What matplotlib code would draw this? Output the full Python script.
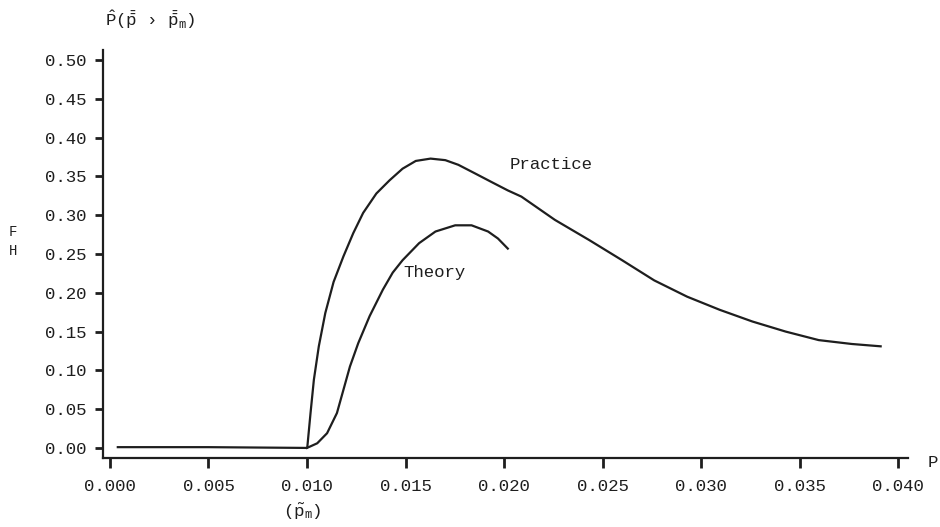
import matplotlib
matplotlib.use("Agg")
import matplotlib.pyplot as plt

plt.rcParams['font.family'] = ['Liberation Mono', 'DejaVu Sans Mono']
plt.rcParams['mathtext.fontset'] = 'custom'
plt.rcParams['mathtext.rm'] = 'Liberation Mono'
plt.rcParams['mathtext.it'] = 'Liberation Mono'

# values
practice_x = [0.0004, 0.0050, 0.0100, 0.01002, 0.01018, 0.01035, 0.0106, 0.01093,
              0.01135, 0.01185, 0.01235, 0.01285, 0.01352, 0.01419, 0.01485, 0.01552,
              0.01627, 0.01702, 0.01768, 0.01852, 0.01935, 0.02019, 0.02088, 0.02258,
              0.02432, 0.02599, 0.02762, 0.02929, 0.03095, 0.0326, 0.03429, 0.03597,
              0.03765, 0.03911]
practice_y = [0.001, 0.001, 0.000, 0.002, 0.045, 0.088, 0.131, 0.174,
              0.214, 0.247, 0.277, 0.303, 0.328, 0.345, 0.360, 0.370,
              0.373, 0.371, 0.365, 0.354, 0.343, 0.332, 0.324, 0.294,
              0.268, 0.242, 0.216, 0.195, 0.178, 0.163, 0.150, 0.139,
              0.134, 0.131]

theory_x = [0.0100, 0.01052, 0.01102, 0.01152, 0.01185, 0.01218, 0.0126, 0.01318,
            0.01385, 0.01435, 0.01485, 0.01569, 0.01652, 0.01752, 0.01835, 0.01919,
            0.01969, 0.02019]
theory_y = [0.000, 0.006, 0.019, 0.045, 0.075, 0.105, 0.135, 0.170,
            0.204, 0.226, 0.242, 0.264, 0.279, 0.287, 0.287, 0.279,
            0.270, 0.257]

xticks = [0.000, 0.005, 0.010, 0.015, 0.020, 0.025, 0.030, 0.035, 0.040]
yticks = [0.00, 0.05, 0.10, 0.15, 0.20, 0.25, 0.30, 0.35, 0.40, 0.45, 0.50]

ink = '#1e1e1e'

fig = plt.figure(figsize=(9.4, 5.27), dpi=100)
ax = fig.add_axes([0.1096, 0.1309, 0.8564, 0.7742])

ax.plot(practice_x, practice_y, color=ink, lw=1.6, solid_joinstyle='round')
ax.plot(theory_x, theory_y, color=ink, lw=1.6, solid_joinstyle='round')

ax.set_xlim(-0.00035, 0.0405)
ax.set_ylim(-0.013, 0.513)

ax.set_xticks(xticks)
ax.set_xticklabels([f"{v:.3f}" for v in xticks])
ax.set_yticks(yticks)
ax.set_yticklabels([f"{v:.2f}" for v in yticks])

for s in ['top', 'right']:
    ax.spines[s].set_visible(False)
for s in ['left', 'bottom']:
    ax.spines[s].set_color(ink)
    ax.spines[s].set_linewidth(1.6)

ax.tick_params(axis='both', colors=ink, labelsize=12.5, width=2, direction='out')
ax.tick_params(axis='y', length=6, pad=6)
ax.tick_params(axis='x', length=7, pad=8)

ax.text(0.0224, 0.366, "Practice", fontsize=12.5, color=ink, ha='center', va='center')
ax.text(0.0149, 0.226, "Theory", fontsize=12.5, color=ink, ha='left', va='center')

fig.text(0.112, 0.962,
         r"$\hat{\mathrm{P}}(\bar{\bar{\mathrm{p}}}$ " + "\u203a" + r" $\bar{\bar{\mathrm{p}}}_\mathrm{m})$",
         fontsize=12.5, color=ink, ha='left', va='center')
fig.text(0.014, 0.560, "F", fontsize=10, color=ink, ha='center', va='center')
fig.text(0.014, 0.524, "H", fontsize=10, color=ink, ha='center', va='center')
fig.text(0.992, 0.123, "P", fontsize=12.5, color=ink, ha='center', va='center')
fig.text(0.322, 0.028, r"$(\tilde{\mathrm{p}}_\mathrm{m})$", fontsize=12.5, color=ink,
         ha='center', va='center')

fig.savefig("out.png", dpi=100)
